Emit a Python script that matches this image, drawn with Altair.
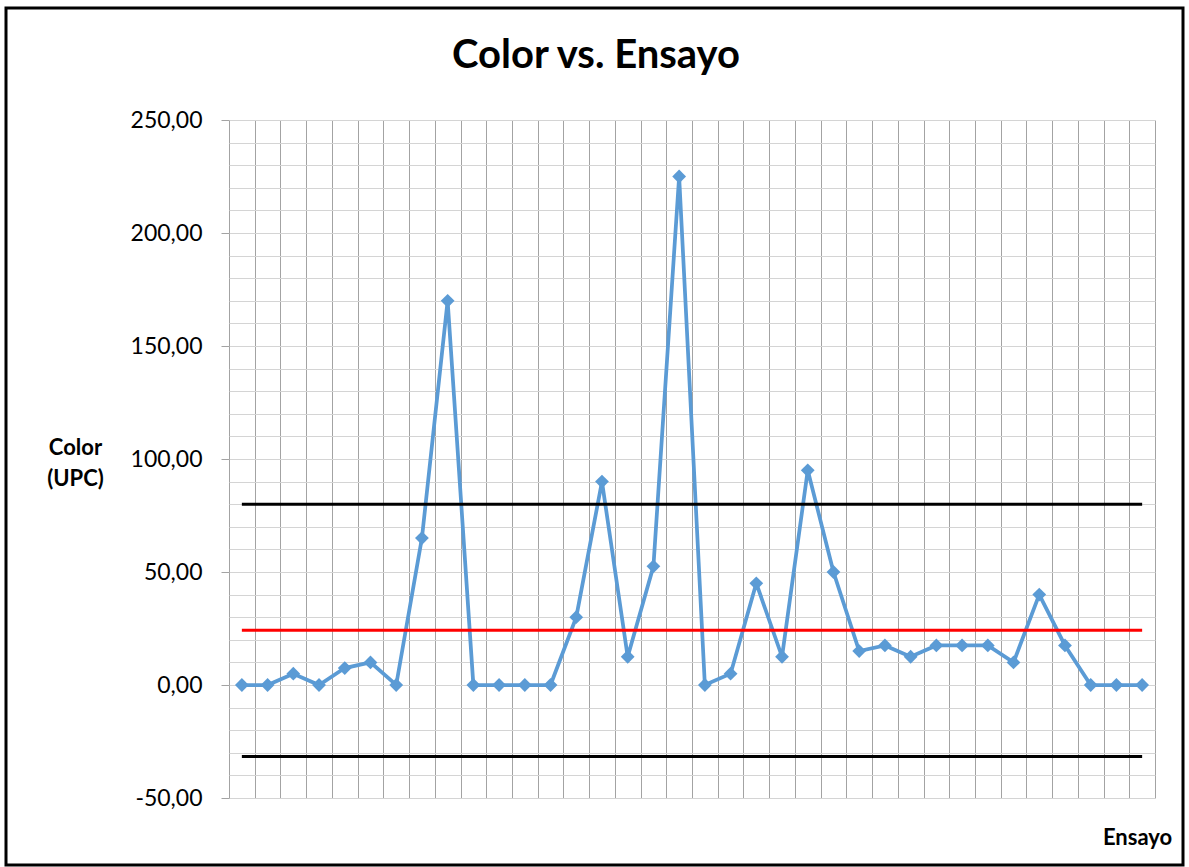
import altair as alt
import pandas as pd

ensayo = list(range(1, 37))
color_upc = [0, 0, 5, 0, 7.5, 10, 0, 65, 170, 0, 0, 0, 0, 30, 90, 12.5, 52.5, 225,
             0, 5, 45, 12.5, 95, 50, 15, 17.5, 12.5, 17.5, 17.5, 17.5, 10, 40, 17.5, 0, 0, 0]
limit_names = ["LSC", "LC", "LIC"]
limit_values = [80.0, 24.2, -31.6]
limit_colors = ["#000000", "#ff0000", "#000000"]
chart_title = "Color vs. Ensayo"

df = pd.DataFrame({"Ensayo": ensayo, "Color": color_upc})
lim = pd.DataFrame({"name": limit_names, "y": limit_values, "c": limit_colors,
                    "x1": [ensayo[0]] * 3, "x2": [ensayo[-1]] * 3})
ttl = pd.DataFrame({"t": [chart_title]})

FONT = "Lato"
grid_x = [i + 0.5 for i in range(0, 37)]
grid_y = list(range(-50, 251, 10))

xscale = alt.Scale(domain=[0.5, 36.5], nice=False, zero=False)
yscale = alt.Scale(domain=[-50, 250], nice=False, zero=False)

xaxis = alt.Axis(values=grid_x, tickCount=200, grid=True, gridColor="#a3a3a3", gridWidth=1,
                 labels=False, ticks=False, domain=False,
                 title="Ensayo", titleFont=FONT, titleFontSize=22, titleFontWeight="bold",
                 titleColor="#000000", titleX=908, titleY=46, titleAlign="center",
                 titleBaseline="alphabetic", titleAngle=0)
yaxis = alt.Axis(values=grid_y, tickCount=200, grid=True, gridColor="#d4d4d4", gridWidth=1,
                 domain=False, tickSize=8, tickColor="#a3a3a3",
                 tickOpacity=alt.condition("datum.value % 50 === 0", alt.value(1), alt.value(0)),
                 labelExpr="datum.value % 50 === 0 ? replace(replace(format(datum.value, '.2f'), '.', ','), '\u2212', '-') : ''",
                 labelOverlap=False,
                 labelFont=FONT, labelFontSize=23, labelColor="#000000", labelPadding=19,
                 title=["Color", "(UPC)"], titleFont=FONT, titleFontSize=22,
                 titleFontWeight="bold", titleColor="#000000", titleAngle=0,
                 titleX=-154, titleY=317, titleAlign="center", titleBaseline="top",
                 titleLineHeight=31)

base = alt.Chart(df)
line = base.mark_line(color="#5b9bd5", strokeWidth=3.75).encode(
    x=alt.X("Ensayo:Q", scale=xscale, axis=xaxis),
    y=alt.Y("Color:Q", scale=yscale, axis=yaxis),
)
pts = base.mark_point(shape="diamond", filled=True, size=190, opacity=1,
                      color="#5b9bd5").encode(
    x=alt.X("Ensayo:Q", scale=xscale),
    y=alt.Y("Color:Q", scale=yscale),
)
rules = alt.Chart(lim).mark_rule(strokeWidth=3).encode(
    x=alt.X("x1:Q", scale=xscale),
    x2="x2:Q",
    y=alt.Y("y:Q", scale=yscale),
    color=alt.Color("c:N", scale=None),
)
border = alt.Chart(lim).mark_rect(filled=False, stroke="#000000", strokeWidth=3,
                                   clip=False).encode(
    x=alt.value(-223), x2=alt.value(954), y=alt.value(-112), y2=alt.value(745)
).transform_filter("datum.name === 'LSC'")
title = alt.Chart(ttl).mark_text(font=FONT, fontSize=40, fontWeight="bold", color="#000000",
                                 align="center", baseline="alphabetic").encode(
    text="t:N", x=alt.value(367), y=alt.value(-52)
)

chart = alt.layer(line, pts, rules, border, title).properties(
    width=926, height=678,
    autosize=alt.AutoSizeParams(type="none"),
    padding={"left": 229, "top": 120, "right": 34, "bottom": 69},
    background="#ffffff",
).configure_view(stroke=None)

chart.save("out.html", embed_options={"renderer": "svg", "actions": False})
